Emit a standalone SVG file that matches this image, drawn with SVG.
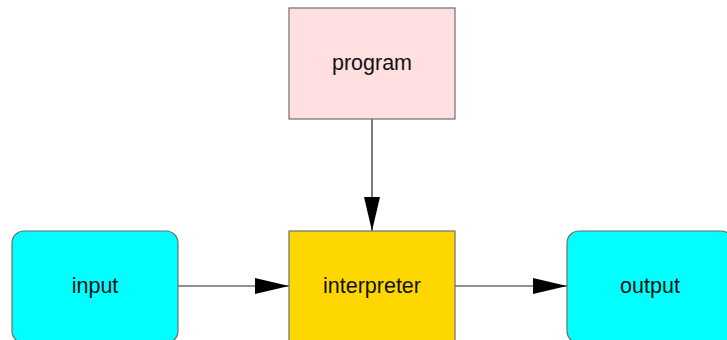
<svg xmlns="http://www.w3.org/2000/svg" width="727" height="340" viewBox="0 0 727 340">
  <style>
    .box { stroke: #6e6e6e; stroke-width: 1.2; }
    .label { font-family: "Liberation Sans", Arial, sans-serif; font-size: 21.5px; fill: #111; text-anchor: middle; dominant-baseline: central; }
    .edge { stroke: #222; stroke-width: 1.2; fill: none; }
  </style>
  <defs>
    <marker id="arrow" viewBox="0 0 34 16" refX="34" refY="8" markerWidth="34" markerHeight="16" markerUnits="userSpaceOnUse" orient="auto">
      <path d="M0,0 L34,8 L0,16 Z" fill="#000"/>
    </marker>
  </defs>
  <rect width="727" height="340" fill="#fff"/>

  <g id="connectors">
    <line class="edge" x1="372" y1="119" x2="372" y2="231" marker-end="url(#arrow)"/>
    <line class="edge" x1="178" y1="286" x2="289" y2="286" marker-end="url(#arrow)"/>
    <line class="edge" x1="455" y1="286" x2="567" y2="286" marker-end="url(#arrow)"/>
  </g>

  <g id="program">
    <rect class="box" x="289" y="8" width="166" height="111" fill="#ffdfe0"/>
    <text class="label" x="372" y="63">program</text>
  </g>
  <g id="interpreter">
    <rect class="box" x="289" y="231" width="166" height="112" fill="#ffd700"/>
    <text class="label" x="372" y="286">interpreter</text>
  </g>
  <g id="input">
    <rect class="box" x="12" y="231" width="166" height="112" rx="12" fill="#00ffff"/>
    <text class="label" x="95" y="286">input</text>
  </g>
  <g id="output">
    <rect class="box" x="567" y="231" width="166" height="112" rx="12" fill="#00ffff"/>
    <text class="label" x="650" y="286">output</text>
  </g>
</svg>
